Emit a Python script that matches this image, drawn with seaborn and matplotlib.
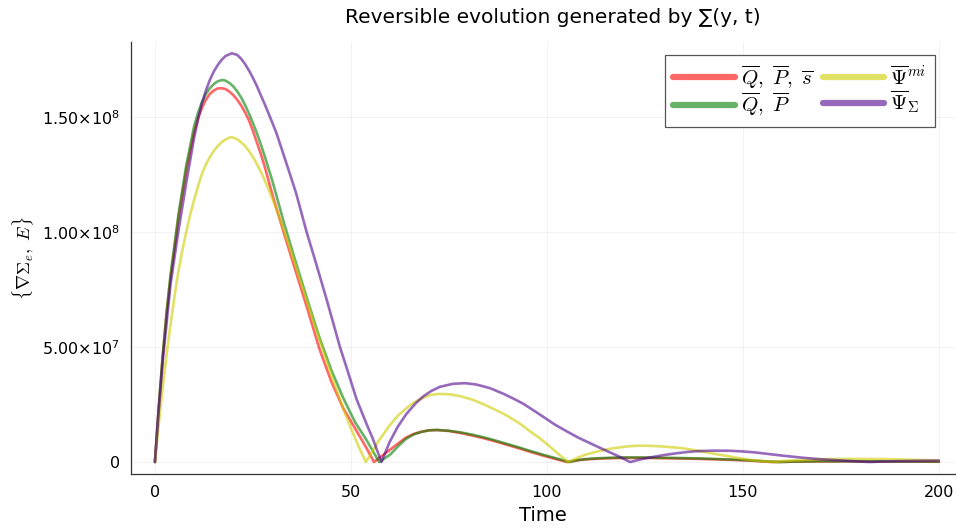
import numpy as np
import pandas as pd
import matplotlib
matplotlib.use("Agg")
import matplotlib.pyplot as plt
from matplotlib.lines import Line2D
from matplotlib.font_manager import FontProperties
import seaborn as sns

SCALE = 1e6

t_red = [0, 1, 2, 3, 4, 6, 8, 10, 11, 12, 13, 14, 15, 16, 17, 18, 19, 20, 21, 22, 23, 24, 25, 26, 27, 28, 30, 33, 36, 39, 42, 45, 48, 51, 54, 55.9,
         58, 60, 62, 64, 66, 68, 70, 72, 75, 78, 81, 84, 87, 90, 93, 96, 99, 102, 105.2,
         108, 110, 113, 116, 120, 124, 128, 132, 138, 142, 146, 150, 153, 155.5, 157.5, 162, 168, 176, 186, 200]
v_red = [0, 24, 46, 65, 80.5, 106, 127, 143.5, 149.4, 154, 157.5, 160, 161.5, 162.4, 162.5, 162.2, 161, 159.5, 157.5, 155, 152, 148.5, 144, 139, 134, 128.5, 116, 99, 82.5, 66, 49, 35, 23.5, 14.8, 6, 0,
         2.8, 5.4, 8, 10.6, 12.2, 13.2, 13.8, 13.9, 13.5, 12.6, 11.5, 10.3, 8.9, 7.4, 5.9, 4.3, 2.8, 1.4, 0,
         0.8, 1.15, 1.45, 1.65, 1.8, 1.8, 1.7, 1.6, 1.4, 1.2, 1.0, 0.75, 0.5, 0.2, 0, 0.15, 0.25, 0.3, 0.25, 0.12]

t_green = [0, 1, 2, 3, 4, 6, 8, 10, 11, 12, 13, 14, 15, 16, 17.2, 18, 19, 20, 21, 22, 23, 24, 25, 26, 27, 28, 30, 33, 36, 39, 42, 45, 48, 51, 54, 57.2,
           60, 62, 64, 66, 68, 70, 72, 75, 78, 81, 84, 87, 90, 93, 96, 99, 102, 105.8,
           108, 110, 113, 116, 120, 124, 128, 132, 138, 142, 146, 150, 153, 156, 159.5, 163, 168, 176, 186, 200]
v_green = [0, 24.5, 46.5, 65.5, 81.5, 107.5, 129, 146, 151.8, 156.5, 160, 162.5, 164.3, 165.5, 166.1, 165.8, 164.8, 163.3, 161.1, 158.5, 155.2, 151.5, 147.4, 143, 138.2, 133, 122, 103.5, 86.5, 70, 54, 40, 28, 17.5, 9.5, 0,
           3.2, 6.8, 10.0, 12.0, 13.1, 13.8, 13.95, 13.6, 12.9, 11.9, 10.7, 9.3, 7.8, 6.3, 4.7, 3.2, 1.8, 0,
           0.9, 1.3, 1.65, 1.85, 2.0, 2.0, 1.9, 1.8, 1.6, 1.4, 1.15, 0.9, 0.6, 0.3, 0, 0.2, 0.3, 0.35, 0.3, 0.15]

t_yellow = [0, 1, 2, 3, 4, 5, 6, 7, 8, 9, 10, 11, 12, 13, 14, 15, 16, 17, 18, 19.3, 20, 21, 22, 23, 24, 25, 26, 27, 28, 29, 30, 31, 33, 36, 39, 42, 45, 48, 50, 52, 53.8,
            55.7, 57, 59.9, 62, 64.2, 66, 68, 70, 72, 75, 78, 81.2, 84, 87, 89.7, 93, 96, 98.2, 101, 103, 105.4,
            108, 110, 112.7, 115, 117, 120, 122, 124.5, 127, 130, 134, 138, 142, 146, 150, 153, 156, 158,
            161, 165, 170, 175, 180, 185, 190, 195, 200]
v_yellow = [0, 17, 32.5, 47, 60, 72, 83, 92, 100, 107.5, 114, 120, 125.3, 129.3, 132.5, 135.2, 137.3, 139, 140.2, 141.2, 141, 140.3, 139, 137.4, 135.2, 132.6, 129.6, 126.2, 122.5, 118.5, 114.3, 109.8, 100.2, 84.8, 68.8, 53, 37.7, 23.4, 14.7, 6.6, 0,
            5.2, 9, 16, 20.2, 23.5, 25.8, 27.7, 29, 29.6, 29.5, 28.6, 27, 25, 22.6, 20.3, 16.8, 13, 10.3, 6.4, 3.4, 0,
            2.0, 3.3, 4.5, 5.4, 6.0, 6.7, 7.0, 7.1, 7.0, 6.7, 6.1, 5.1, 3.8, 2.6, 1.4, 0.7, 0.25, 0,
            0.5, 0.9, 1.2, 1.35, 1.35, 1.3, 1.15, 0.9, 0.7]

t_purple = [0, 1, 2, 4, 6, 8, 10, 11, 12, 13, 14, 15, 16, 17, 18, 19.6, 21, 22, 23, 24, 25, 26, 27, 28, 29, 30, 31, 32.5, 34, 36, 38.7, 41, 44, 47.2, 49, 51.4, 54, 55.5, 57.8,
            59.9, 62, 64.2, 66.5, 68.5, 70.5, 72.7, 76, 79.1, 82, 85.5, 89, 92, 94, 97, 100, 102, 105, 108, 111, 114, 117, 119, 121.2,
            124, 126, 129.7, 133, 136, 138.2, 142, 146.7, 150, 153, 156, 160, 164.5, 167, 170, 173, 177.3, 180, 182.4,
            185, 190, 195, 200]
v_purple = [0, 23, 44, 77.5, 100.5, 121.5, 141, 149, 156, 161.5, 166, 169.7, 172.5, 174.8, 176.5, 177.7, 177, 175.3, 173, 170.2, 167, 163.5, 159.5, 155.6, 151.5, 147.3, 143, 135.3, 127.5, 117, 100, 87, 69.5, 50, 40.5, 27.5, 16.5, 10.5, 0,
            8.8, 15.5, 21, 25.5, 28.6, 30.9, 32.7, 34, 34.3, 33.7, 32.1, 29.6, 27.1, 25.3, 22, 18.6, 16.3, 13.4, 10.6, 8.2, 5.8, 3.5, 1.9, 0,
            1.2, 1.9, 3.0, 3.8, 4.4, 4.7, 4.95, 4.9, 4.6, 4.2, 3.6, 2.8, 2.0, 1.6, 1.2, 0.9, 0.45, 0.2, 0,
            0.2, 0.4, 0.55, 0.6]

series_names = ["red", "green", "yellow", "purple"]
legend_labels = [r"$\overline{Q},\ \overline{P},\ \overline{s}$",
                 r"$\overline{Q},\ \overline{P}$",
                 r"$\overline{\Psi}^{mi}$",
                 r"$\overline{\Psi}_{\Sigma}$"]
colors = ["#ff0000", "#008000", "#cdcd00", "#50058f"]
ALPHA = 0.6

x_ticks = [0, 50, 100, 150, 200]
y_ticks = [0, 5e7, 1e8, 1.5e8]
y_tick_labels = ["0", r"5.00×10$^{7}$", r"1.00×10$^{8}$", r"1.50×10$^{8}$"]

frames = []
for name, t, v in [("red", t_red, v_red), ("green", t_green, v_green),
                   ("yellow", t_yellow, v_yellow), ("purple", t_purple, v_purple)]:
    frames.append(pd.DataFrame({"t": t, "v": np.array(v) * SCALE, "s": name}))
df = pd.concat(frames, ignore_index=True)

sns.set_style("white")
plt.rcParams["font.family"] = ["DejaVu Sans"]
plt.rcParams["mathtext.fontset"] = "dejavusans"
plt.rcParams["text.color"] = "black"
plt.rcParams["axes.labelcolor"] = "black"

fig = plt.figure(figsize=(9.56, 5.31), dpi=100)
ax = fig.add_axes([131 / 956, 1 - 474 / 531, (955 - 131) / 956, (474 - 42) / 531])

for name, col in zip(series_names, colors):
    sns.lineplot(data=df[df["s"] == name], x="t", y="v", color=col, alpha=ALPHA,
                 lw=1.9, ax=ax, sort=False, estimator=None, legend=False,
                 solid_joinstyle="round")

ax.set_xlim(-6.1, 204.1)
ax.set_ylim(-5.2e6, 1.826e8)
ax.set_xticks(x_ticks)
ax.set_xticklabels([str(x) for x in x_ticks])
ax.set_yticks(y_ticks)
ax.set_yticklabels(y_tick_labels)
ax.tick_params(direction="in", length=4, width=0.8, labelsize=11.5, colors="black", pad=8)
ax.grid(True, color="black", alpha=0.05, lw=0.7)
for sp in ["top", "right"]:
    ax.spines[sp].set_visible(False)
for sp in ["left", "bottom"]:
    ax.spines[sp].set_color("#333333")
    ax.spines[sp].set_linewidth(0.9)

ax.set_xlabel("Time", fontsize=14, labelpad=4, color="black")
ax.set_ylabel(r"$\{\nabla\Sigma_{e},\ E\}$", fontsize=13, math_fontfamily="cm", labelpad=4, color="black")
ax.set_title("Reversible evolution generated by ∑(y, t)", fontsize=14.5, pad=14,
             x=(553 - 131) / 824, color="black")

handles = [Line2D([0], [0], color=c, alpha=ALPHA, lw=4.5, solid_capstyle="round") for c in colors]
leg = ax.legend(handles, legend_labels, ncol=2, loc="upper right",
                bbox_to_anchor=(935 / 956, 1 - 55 / 531), bbox_transform=fig.transFigure,
                borderaxespad=0,
                prop=FontProperties(size=15, math_fontfamily="cm"),
                handlelength=2.95, handletextpad=0.3, columnspacing=0.45,
                labelspacing=0.0, borderpad=0.4, fancybox=False, framealpha=1,
                edgecolor="#555555")
leg.get_frame().set_linewidth(0.9)
for txt in leg.get_texts():
    txt.set_color("black")

fig.savefig("out.png", dpi=100)
